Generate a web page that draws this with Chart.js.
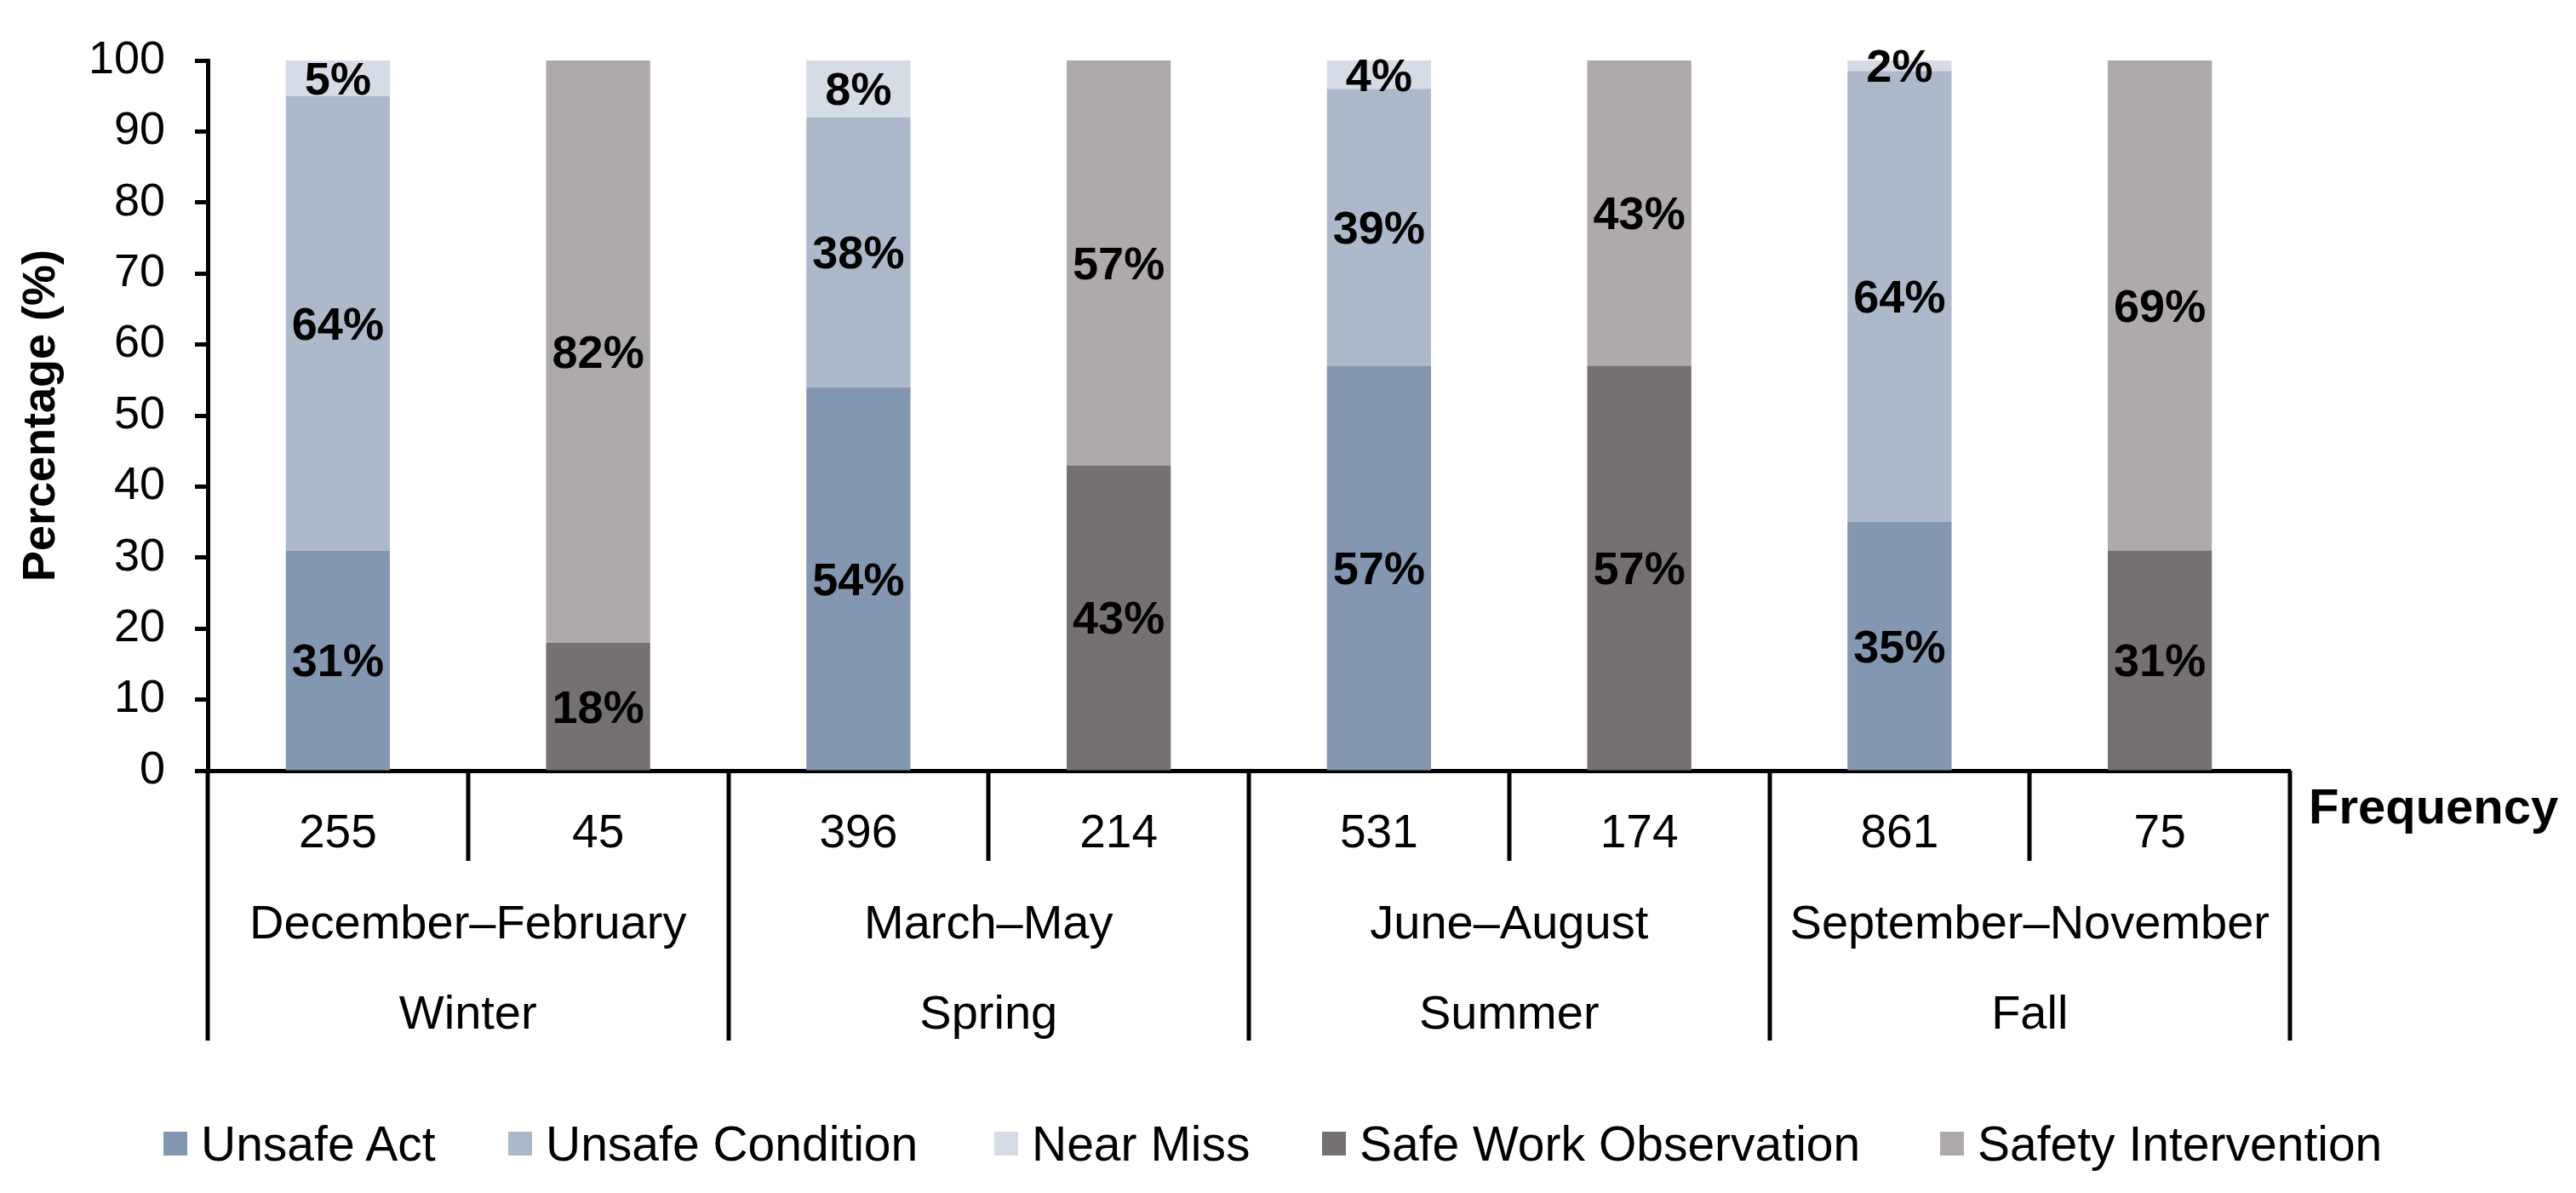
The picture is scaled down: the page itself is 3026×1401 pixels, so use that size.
<!DOCTYPE html>
<html>
<head>
<meta charset="utf-8">
<script src="https://cdn.jsdelivr.net/npm/chart.js@4.4.1/dist/chart.umd.min.js"></script>
<style>
  body { margin: 0; background: #fff; }
  #wrap { position: relative; width: 3026px; height: 1401px; }
  #c { display: block; }
  .leg { position: absolute; top: 1311px; height: 64px; display: flex; align-items: center;
         font-family: "Liberation Sans", Arial, sans-serif; font-size: 57px; color: #000; white-space: nowrap; }
  .leg i { display: inline-block; width: 28px; height: 28px; margin-right: 16px; }
</style>
</head>
<body>
<div id="wrap">
  <canvas id="c" width="3026" height="1401"></canvas>
  <div id="legend"></div>
</div>
<script>
// ---- Data ----
const categories = ['255', '45', '396', '214', '531', '174', '861', '75'];
const months = ['December–February', 'March–May', 'June–August', 'September–November'];
const seasons = ['Winter', 'Spring', 'Summer', 'Fall'];
const yTicks = [0, 10, 20, 30, 40, 50, 60, 70, 80, 90, 100];

const seriesNames = ['Unsafe Act', 'Unsafe Condition', 'Near Miss', 'Safe Work Observation', 'Safety Intervention'];
const unsafeAct = [31, null, 54, null, 57, null, 35, null];
const unsafeCondition = [64, null, 38, null, 39, null, 63.5, null];
const nearMiss = [5, null, 8, null, 4, null, 1.5, null];
const safeWorkObservation = [null, 18, null, 43, null, 57, null, 31];
const safetyIntervention = [null, 82, null, 57, null, 43, null, 69];

const colors = ['#8497B0', '#ADB9CA', '#D6DCE5', '#767171', '#AEAAAA'];
const FONT = '"Liberation Sans", Arial, sans-serif';

// ---- Plugins ----
// percent labels in the middle of each segment
const segmentLabels = {
  id: 'segmentLabels',
  afterDatasetsDraw(chart) {
    const ctx = chart.ctx;
    ctx.save();
    ctx.font = 'bold 54px ' + FONT;
    ctx.fillStyle = '#000';
    ctx.textAlign = 'center';
    ctx.textBaseline = 'alphabetic';
    chart.data.datasets.forEach((ds, i) => {
      chart.getDatasetMeta(i).data.forEach((bar, j) => {
        const v = ds.data[j];
        if (v == null) return;
        const mid = (bar.y + bar.base) / 2;
        ctx.fillText(Math.round(v) + '%', bar.x, mid + 19);
      });
    });
    ctx.restore();
  }
};

// three-row category table under the x axis
const axisTable = {
  id: 'axisTable',
  afterDraw(chart) {
    const ctx = chart.ctx;
    const xs = chart.scales.x;
    const bottom = chart.chartArea.bottom;
    ctx.save();
    ctx.strokeStyle = '#000';
    ctx.lineWidth = 5;
    for (let i = 0; i <= categories.length; i++) {
      const px = Math.round(xs.getPixelForValue(i - 0.5));
      ctx.beginPath();
      ctx.moveTo(px, bottom);
      ctx.lineTo(px, i % 2 === 0 ? 1222 : 1011);
      ctx.stroke();
    }
    ctx.fillStyle = '#000';
    ctx.textAlign = 'center';
    ctx.textBaseline = 'alphabetic';
    ctx.font = '55px ' + FONT;
    categories.forEach((c, j) => ctx.fillText(c, xs.getPixelForValue(j), 995));
    ctx.font = '56px ' + FONT;
    months.forEach((m, g) => ctx.fillText(m, xs.getPixelForValue(g * 2 + 0.5), 1102));
    seasons.forEach((s, g) => ctx.fillText(s, xs.getPixelForValue(g * 2 + 0.5), 1208));
    ctx.textAlign = 'left';
    ctx.font = 'bold 58px ' + FONT;
    ctx.fillText('Frequency', chart.chartArea.right + 22, 967);
    ctx.restore();
  }
};

// ---- Chart ----
const seriesData = [unsafeAct, unsafeCondition, nearMiss, safeWorkObservation, safetyIntervention];

new Chart(document.getElementById('c'), {
  type: 'bar',
  data: {
    labels: categories,
    datasets: seriesNames.map((name, i) => ({
      label: name,
      data: seriesData[i],
      backgroundColor: colors[i],
      borderWidth: 0,
      categoryPercentage: 1,
      barPercentage: 0.4,
      skipNull: true
    }))
  },
  options: {
    responsive: false,
    devicePixelRatio: 1,
    animation: false,
    layout: { padding: { left: 0, top: 71, right: 336, bottom: 496 } },
    plugins: { legend: { display: false }, tooltip: { enabled: false } },
    scales: {
      x: {
        stacked: true,
        ticks: { display: false },
        grid: { display: false },
        border: { display: true, color: '#000', width: 5 },
        afterFit: s => { s.height = 0; }
      },
      y: {
        stacked: true,
        min: 0,
        max: 100,
        afterBuildTicks: s => { s.ticks = yTicks.map(v => ({ value: v })); },
        ticks: { color: '#000', font: { family: FONT, size: 54 }, padding: 35 },
        grid: { drawOnChartArea: false, drawTicks: true, tickLength: 15, tickWidth: 5, tickColor: '#000' },
        border: { display: true, color: '#000', width: 5 },
        title: {
          display: true,
          text: 'Percentage (%)',
          color: '#000',
          font: { family: FONT, size: 54, weight: 'bold' },
          padding: { top: 17, bottom: 0 }
        },
        afterFit: s => { s.width = 244; }
      }
    }
  },
  plugins: [segmentLabels, axisTable]
});

// ---- Legend ----
const legendX = [192, 597, 1168, 1553, 2279];
document.getElementById('legend').innerHTML = seriesNames.map((n, i) =>
  `<div class="leg" style="left:${legendX[i]}px"><i style="background:${colors[i]}"></i>${n}</div>`
).join('');
</script>
</body>
</html>
